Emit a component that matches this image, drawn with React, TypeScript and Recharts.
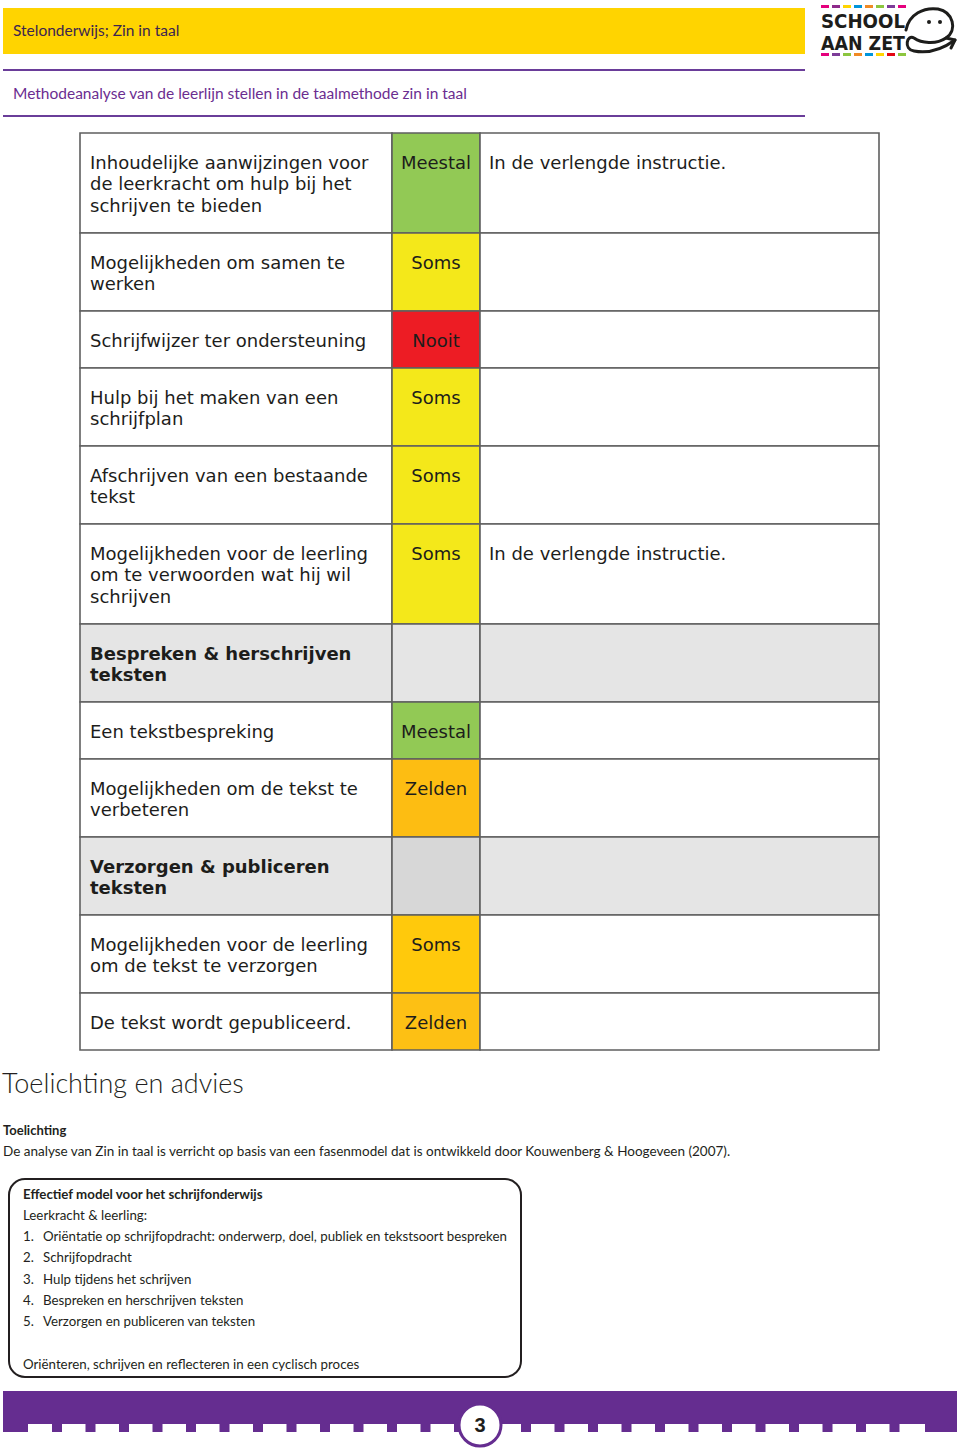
import { ComposedChart, XAxis, YAxis, ReferenceArea, Scatter } from "recharts";

// table rows: label lines, frequency, remark
const rowLabels: string[][] = [
  ["Inhoudelijke aanwijzingen voor", "de leerkracht om hulp bij het", "schrijven te bieden"],
  ["Mogelijkheden om samen te", "werken"],
  ["Schrijfwijzer ter ondersteuning"],
  ["Hulp bij het maken van een", "schrijfplan"],
  ["Afschrijven van een bestaande", "tekst"],
  ["Mogelijkheden voor de leerling", "om te verwoorden wat hij wil", "schrijven"],
  ["Bespreken & herschrijven", "teksten"],
  ["Een tekstbespreking"],
  ["Mogelijkheden om de tekst te", "verbeteren"],
  ["Verzorgen & publiceren", "teksten"],
  ["Mogelijkheden voor de leerling", "om de tekst te verzorgen"],
  ["De tekst wordt gepubliceerd."],
];
const rowStatus = ["Meestal", "Soms", "Nooit", "Soms", "Soms", "Soms", "", "Meestal", "Zelden", "", "Soms", "Zelden"];
const rowNotes = ["In de verlengde instructie.", "", "", "", "", "In de verlengde instructie.", "", "", "", "", "", ""];
const sectionRows = [6, 9];

const helpLines = [
  "Leerkracht & leerling:",
  "Oriëntatie op schrijfopdracht: onderwerp, doel, publiek en tekstsoort bespreken",
  "Schrijfopdracht",
  "Hulp tijdens het schrijven",
  "Bespreken en herschrijven teksten",
  "Verzorgen en publiceren van teksten",
];

// styles
const statusFill = ["#92c955", "#f4e81a", "#ed1c24", "#f4e81a", "#f4e81a", "#f4e81a", "#e5e5e5", "#92c955", "#fdbd12", "#d7d7d7", "#ffc90c", "#fdc014"];
const ROW_H: Record<number, number> = { 1: 57, 2: 78, 3: 100 };
const COLS = [0, 312, 400, 799];
const PURPLE = "#652d90";
const TEXT = "#1d1d1b";
const TABLE_FONT = "'DejaVu Sans', Verdana, sans-serif";
const BODY_FONT = "Lato, 'Noto Sans', sans-serif";

const rowTops: number[] = [];
rowLabels.reduce((acc, lines) => {
  rowTops.push(acc);
  return acc + ROW_H[lines.length];
}, 0);
const tableH = rowTops[rowTops.length - 1] + ROW_H[rowLabels[rowLabels.length - 1].length];

type TextItem = { x: number; y: number; text: string; anchor: "start" | "middle"; bold: boolean };
const textItems: TextItem[] = [];
rowLabels.forEach((lines, i) => {
  const bold = sectionRows.includes(i);
  lines.forEach((t, j) => {
    textItems.push({ x: COLS[0] + 10, y: rowTops[i] + 35.5 + j * 21.5, text: t, anchor: "start", bold });
  });
  if (rowStatus[i]) textItems.push({ x: (COLS[1] + COLS[2]) / 2, y: rowTops[i] + 35.5, text: rowStatus[i], anchor: "middle", bold: false });
  if (rowNotes[i]) textItems.push({ x: COLS[2] + 9, y: rowTops[i] + 35.5, text: rowNotes[i], anchor: "start", bold: false });
});

const CellText = (p: any) => {
  const d = p.payload as TextItem;
  return (
    <text x={p.cx} y={p.cy} textAnchor={d.anchor} fontFamily={TABLE_FONT} fontSize={18} fontWeight={d.bold ? 700 : 400} fill={TEXT}>
      {d.text}
    </text>
  );
};

function Logo() {
  const top = ["#e5007d", "#8e2a8b", "#ffd500", "#0095db", "#f08a24", "#8cc63f", "#7d3c98", "#e5007d"];
  const bottom = ["#e5007d", "#7d3c98", "#8cc63f", "#f08a24", "#0095db", "#ffd500", "#e30613", "#8cc63f"];
  return (
    <g>
      {top.map((c, i) => (
        <rect key={"t" + i} x={821 + i * 11} y={5} width={8} height={3} fill={c} />
      ))}
      {bottom.map((c, i) => (
        <rect key={"b" + i} x={821 + i * 11} y={53} width={8} height={3} fill={c} />
      ))}
      <text x={821} y={28} fontFamily="'DejaVu Sans', sans-serif" fontWeight={700} fontSize={19} textLength={84} lengthAdjust="spacingAndGlyphs" fill="#1d1d1b">SCHOOL</text>
      <text x={821} y={50} fontFamily="'DejaVu Sans', sans-serif" fontWeight={700} fontSize={19} textLength={84} lengthAdjust="spacingAndGlyphs" fill="#1d1d1b">AAN ZET</text>
      <path
        d="M 906 30 C 909 14, 924 7, 938 9 C 953 12, 958 30, 946 38 C 936 45, 921 43, 914 38 C 907 34, 903 49, 914 51 C 929 54, 944 48, 955 40"
        fill="none"
        stroke="#1d1d1b"
        strokeWidth={3}
        strokeLinecap="round"
      />
      <path d="M 946 38 L 955 40 L 951 48" fill="none" stroke="#1d1d1b" strokeWidth={3} strokeLinecap="round" strokeLinejoin="round" />
      <circle cx={929} cy={22} r={2} fill="#1d1d1b" />
      <circle cx={940} cy={22} r={2} fill="#1d1d1b" />
    </g>
  );
}

function Footer() {
  const teeth: number[] = [];
  for (let x = 52; x < 905; x += 33.5) teeth.push(x);
  return (
    <g>
      <rect x={3} y={1391} width={954} height={33} fill={PURPLE} />
      <rect x={3} y={1424} width={25} height={8} fill={PURPLE} />
      <rect x={925} y={1424} width={32} height={8} fill={PURPLE} />
      {teeth.map((x) => (
        <rect key={x} x={x} y={1424} width={10} height={8} fill={PURPLE} />
      ))}
      <circle cx={480} cy={1425} r={21} fill="#fff" stroke={PURPLE} strokeWidth={3} />
      <text x={480} y={1432} textAnchor="middle" fontFamily="'Liberation Sans', Arial, sans-serif" fontWeight={700} fontSize={20} fill="#1d1d1b">3</text>
    </g>
  );
}

export default function App() {
  return (
    <div style={{ position: "absolute", left: 0, top: 0, width: 960, height: 1450, background: "#fff", overflow: "hidden" }}>
      <svg width={960} height={1450} style={{ position: "absolute", left: 0, top: 0 }}>
        <rect x={3} y={8} width={802} height={46} fill="#ffd400" />
        <text x={13} y={36} fontFamily={BODY_FONT} fontSize={15.5} fill="#3b2550">Stelonderwijs; Zin in taal</text>
        <rect x={3} y={69} width={802} height={2} fill="#6a3d99" />
        <text x={13} y={99} fontFamily={BODY_FONT} fontSize={15.5} fill="#6b2d90">Methodeanalyse van de leerlijn stellen in de taalmethode zin in taal</text>
        <rect x={3} y={115} width={802} height={2} fill="#6a3d99" />
        <Logo />

        <text x={2} y={1093} fontFamily={BODY_FONT} fontWeight={300} fontSize={27} fill="#231f20">Toelichting en advies</text>
        <text x={3} y={1135} fontFamily={BODY_FONT} fontWeight={700} fontSize={13} fill="#231f20">Toelichting</text>
        <text x={3} y={1156} fontFamily={BODY_FONT} fontSize={13.5} fill="#231f20">
          De analyse van Zin in taal is verricht op basis van een fasenmodel dat is ontwikkeld door Kouwenberg &amp; Hoogeveen (2007).
        </text>

        <rect x={9} y={1179} width={512} height={198} rx={16} fill="#fff" stroke="#231f20" strokeWidth={2} />
        <text x={23} y={1199} fontFamily={BODY_FONT} fontWeight={700} fontSize={13.3} fill="#231f20">Effectief model voor het schrijfonderwijs</text>
        {helpLines.map((t, i) => (
          <g key={t}>
            {i > 0 && (
              <text x={23} y={1220 + i * 21.2} fontFamily={BODY_FONT} fontSize={13.3} fill="#231f20">{i + "."}</text>
            )}
            <text x={i > 0 ? 43 : 23} y={1220 + i * 21.2} fontFamily={BODY_FONT} fontSize={13.3} fill="#231f20">{t}</text>
          </g>
        ))}
        <text x={23} y={1369} fontFamily={BODY_FONT} fontSize={13.3} fill="#231f20">Oriënteren, schrijven en reflecteren in een cyclisch proces</text>

        <Footer />
      </svg>

      <div style={{ position: "absolute", left: 79, top: 132 }}>
        <ComposedChart width={801} height={tableH + 2} data={textItems} margin={{ top: 1, right: 1, bottom: 1, left: 1 }}>
          <XAxis type="number" dataKey="x" domain={[0, COLS[3]]} allowDataOverflow hide />
          <YAxis type="number" dataKey="y" domain={[0, tableH]} allowDataOverflow reversed hide />
          {rowLabels.map((lines, i) => {
            const y1 = rowTops[i];
            const y2 = y1 + ROW_H[lines.length];
            const bg = sectionRows.includes(i) ? "#e5e5e5" : "#ffffff";
            return [
              <ReferenceArea key={"l" + i} x1={COLS[0]} x2={COLS[1]} y1={y1} y2={y2} fill={bg} fillOpacity={1} stroke="#5f5f5f" strokeWidth={1.6} strokeOpacity={1} />,
              <ReferenceArea key={"s" + i} x1={COLS[1]} x2={COLS[2]} y1={y1} y2={y2} fill={statusFill[i]} fillOpacity={1} stroke="#5f5f5f" strokeWidth={1.6} strokeOpacity={1} />,
              <ReferenceArea key={"n" + i} x1={COLS[2]} x2={COLS[3]} y1={y1} y2={y2} fill={bg} fillOpacity={1} stroke="#5f5f5f" strokeWidth={1.6} strokeOpacity={1} />,
            ];
          })}
          <Scatter data={textItems} dataKey="y" shape={CellText} isAnimationActive={false} />
        </ComposedChart>
      </div>
    </div>
  );
}
